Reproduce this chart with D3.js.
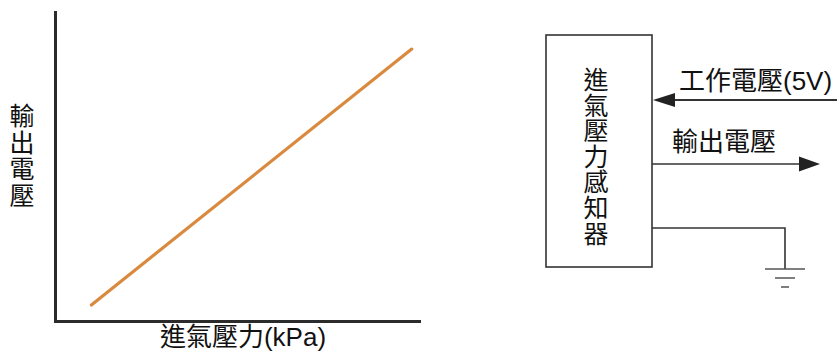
<!DOCTYPE html>
<html>
<head>
<meta charset="utf-8">
<script src="https://cdn.jsdelivr.net/npm/d3@7"></script>
<style>
  body { margin: 0; background: #fff; }
  text { font-family: "Liberation Sans", "Noto Sans CJK TC", sans-serif; fill: #111; }
</style>
</head>
<body>
<svg id="chart" width="837" height="354"></svg>
<script>
// line chart data (arbitrary units)
var pressure = [10, 98];
var voltage = [0.26, 4.4];
var xLabel = "進氣壓力(kPa)";
var yLabel = "輸出電壓";

// sensor diagram labels
var sensorName = "進氣壓力感知器";
var supplyLabel = "工作電壓(5V)";
var outputLabel = "輸出電壓";

var svg = d3.select("#chart");

var margin = { top: 12, right: 418, bottom: 33, left: 55 },
    width = +svg.attr("width") - margin.left - margin.right,
    height = +svg.attr("height") - margin.top - margin.bottom;

var x = d3.scaleLinear().domain([0, 100]).range([0, width]),
    y = d3.scaleLinear().domain([0, 5]).range([height, 0]);

var g = svg.append("g")
    .attr("transform", "translate(" + margin.left + "," + margin.top + ")");

var pts = pressure.map(function(p, i) { return [p, voltage[i]]; });

g.append("path")
    .datum(pts)
    .attr("fill", "none")
    .attr("stroke", "#d98a3f")
    .attr("stroke-width", 3.2)
    .attr("stroke-linecap", "round")
    .attr("d", d3.line()
        .x(function(d) { return x(d[0]); })
        .y(function(d) { return y(d[1]); }));

g.append("g")
    .attr("class", "axis axis--x")
    .attr("transform", "translate(0," + height + ")")
    .call(d3.axisBottom(x).tickValues([]).tickSizeOuter(0));

g.append("g")
    .attr("class", "axis axis--y")
    .call(d3.axisLeft(y).tickValues([]).tickSizeOuter(0));

g.selectAll(".axis .domain")
    .attr("stroke", "#2b2b2b")
    .attr("stroke-width", 3)
    .attr("stroke-linecap", "square");

g.append("text")
    .attr("x", width / 2 + 6)
    .attr("y", height + 25)
    .attr("text-anchor", "middle")
    .style("font-size", "26px")
    .text(xLabel);

// vertical y label, one glyph per line
g.append("g")
    .selectAll("text")
    .data(yLabel.split(""))
    .enter().append("text")
    .attr("x", -33)
    .attr("y", function(d, i) { return 113 + i * 26.5; })
    .attr("text-anchor", "middle")
    .style("font-size", "25px")
    .text(function(d) { return d; });

// sensor block diagram
var box = { x: 546, y: 35, w: 106, h: 232 };
var stroke = "#333";
var d = svg.append("g");

d.append("rect")
    .attr("x", box.x).attr("y", box.y)
    .attr("width", box.w).attr("height", box.h)
    .attr("fill", "none")
    .attr("stroke", stroke)
    .attr("stroke-width", 1.6);

d.selectAll(".sname")
    .data(sensorName.split(""))
    .enter().append("text")
    .attr("class", "sname")
    .attr("x", box.x + box.w / 2 - 3)
    .attr("y", function(c, i) { return 89 + i * 25.6; })
    .attr("text-anchor", "middle")
    .style("font-size", "25px")
    .text(function(c) { return c; });

var right = box.x + box.w;

// supply line with arrow into the box
d.append("line")
    .attr("x1", right + 20).attr("y1", 100)
    .attr("x2", 837).attr("y2", 100)
    .attr("stroke", stroke).attr("stroke-width", 1.8);
d.append("path")
    .attr("d", d3.line()([[right + 1, 100], [right + 23, 93], [right + 23, 107]]))
    .attr("fill", "#222");
d.append("text")
    .attr("x", 679).attr("y", 90)
    .style("font-size", "26px")
    .text(supplyLabel);

// output line with arrow out
d.append("line")
    .attr("x1", right).attr("y1", 164)
    .attr("x2", 800).attr("y2", 164)
    .attr("stroke", stroke).attr("stroke-width", 1.6);
d.append("path")
    .attr("d", d3.line()([[820, 164], [799, 156.5], [799, 171.5]]))
    .attr("fill", "#222");
d.append("text")
    .attr("x", 672).attr("y", 151)
    .style("font-size", "26px")
    .text(outputLabel);

// ground
d.append("path")
    .attr("d", d3.line()([[right, 228], [785, 228], [785, 269]]))
    .attr("fill", "none")
    .attr("stroke", stroke).attr("stroke-width", 1.6);
[[765, 805, 269], [775, 795, 278], [781, 789, 287]].forEach(function(l) {
    d.append("line")
        .attr("x1", l[0]).attr("x2", l[1])
        .attr("y1", l[2]).attr("y2", l[2])
        .attr("stroke", "#555").attr("stroke-width", 1.5);
});
</script>
</body>
</html>
